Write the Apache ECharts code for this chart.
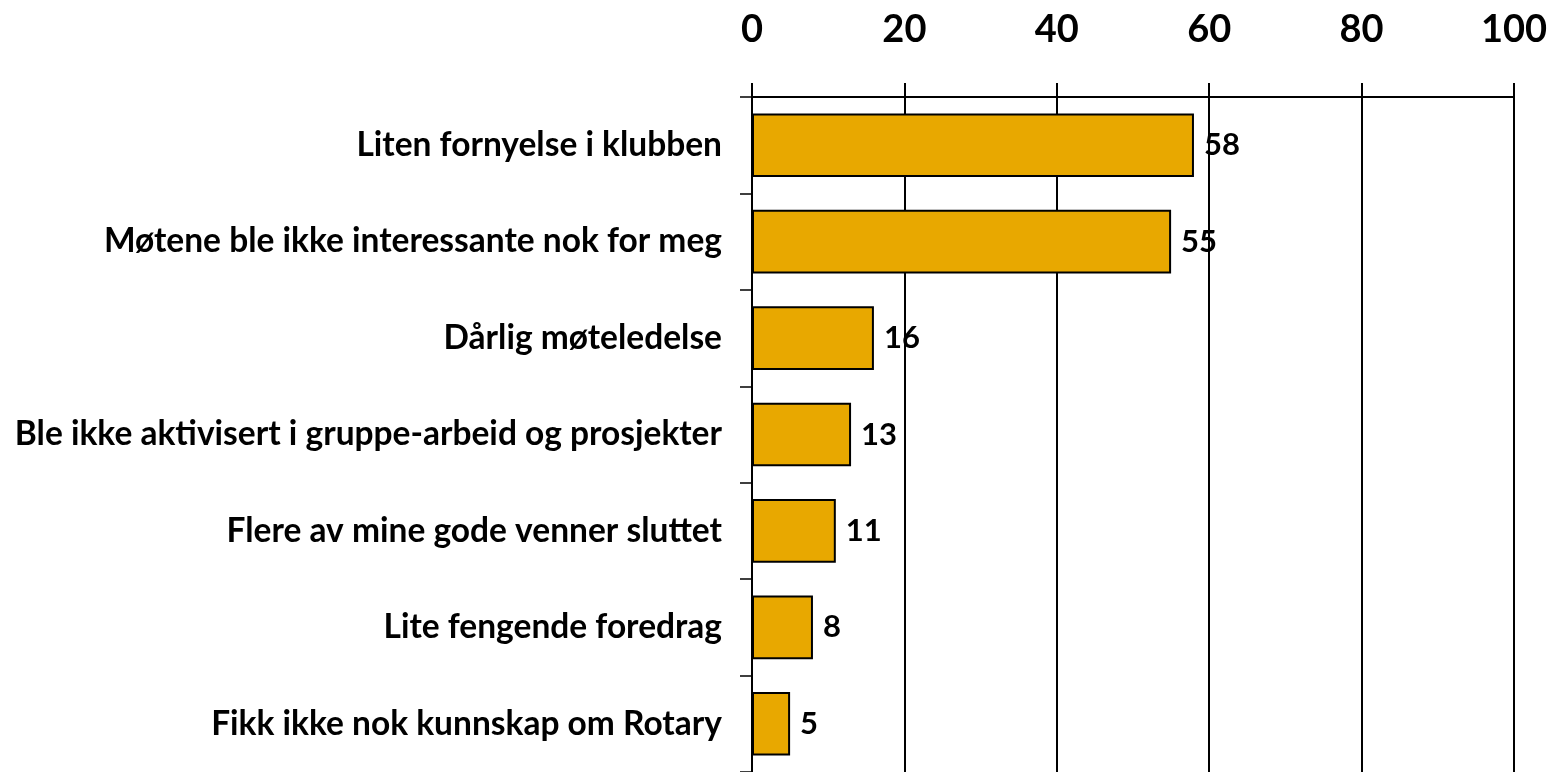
<!DOCTYPE html>
<html>
<head>
<meta charset="utf-8">
<script src="https://cdn.jsdelivr.net/npm/echarts@6/dist/echarts.min.js"></script>
<style>
html,body{margin:0;padding:0;background:#fff;}
#chartDiv{width:1554px;height:772px;}
</style>
</head>
<body>
<div id="chartDiv"></div>
<script>
var categories = ['Liten fornyelse i klubben', 'Møtene ble ikke interessante nok for meg', 'Dårlig møteledelse',
  'Ble ikke aktivisert i gruppe-arbeid og prosjekter', 'Flere av mine gode venner sluttet',
  'Lite fengende foredrag', 'Fikk ikke nok kunnskap om Rotary'];
var values = [58, 55, 16, 13, 11, 8, 5];
var axisMin = 0;
var axisMax = 100;
var axisStep = 20;

var font = 'Lato';

var myChart = echarts.init(document.getElementById('chartDiv'));

var option = {
  animation: false,
  grid: {
    left: 752,
    right: 40,
    top: 97,
    bottom: 0,
    containLabel: false
  },
  xAxis: {
    type: 'value',
    position: 'top',
    min: axisMin,
    max: axisMax,
    interval: axisStep,
    axisLine: { show: true, lineStyle: { color: '#000', width: 2 } },
    axisTick: { show: true, length: 14, lineStyle: { color: '#000', width: 2 } },
    axisLabel: { color: '#000', fontSize: 38, fontWeight: 'bold', fontFamily: font, margin: 48 },
    splitLine: { show: true, lineStyle: { color: '#000', width: 2 } }
  },
  yAxis: {
    type: 'category',
    inverse: true,
    data: categories,
    axisLine: { show: true, lineStyle: { color: '#000', width: 2 } },
    axisTick: { show: true, length: 12, lineStyle: { color: '#000', width: 1.5 } },
    axisLabel: { color: '#000', fontSize: 33.5, fontWeight: 'bold', fontFamily: font, margin: 30 }
  },
  series: [{
    type: 'bar',
    data: values,
    barWidth: '66%',
    itemStyle: { color: '#E8A800', borderColor: '#000', borderWidth: 2 },
    label: {
      show: true,
      position: 'right',
      distance: 10,
      color: '#000',
      fontSize: 31,
      fontWeight: 'bold',
      fontFamily: font
    }
  }]
};

myChart.setOption(option);
window.addEventListener('resize', function () {
  myChart.resize();
});
</script>
</body>
</html>
